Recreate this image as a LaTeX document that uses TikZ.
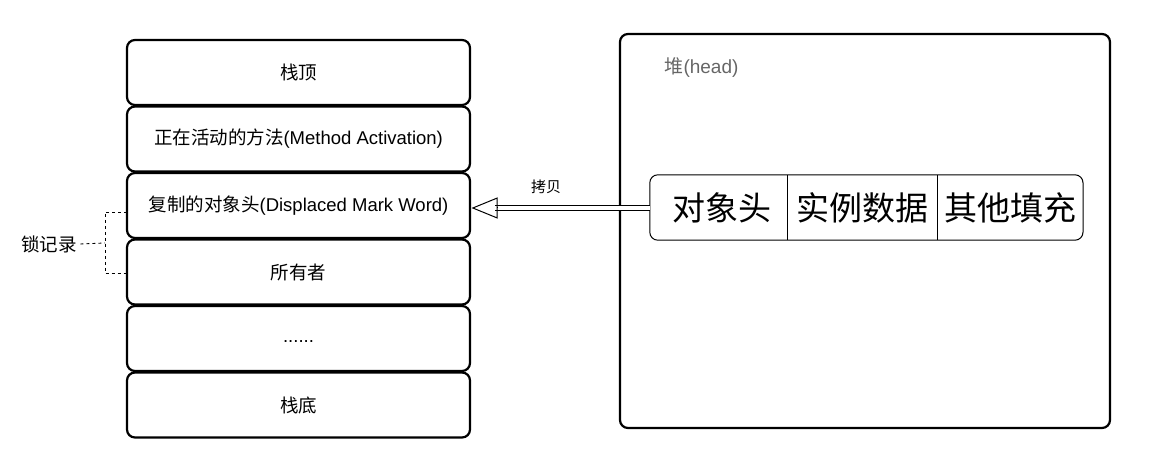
\documentclass[tikz,border=0pt]{standalone}
\usepackage{fontspec}
\setmainfont{Liberation Sans}
\newfontfamily\cjk{Noto Sans CJK SC}
\usetikzlibrary{positioning,arrows.meta}
\definecolor{headgray}{HTML}{666666}
\tikzset{
    frame/.style={draw, line width=2.2pt, rounded corners=8pt, outer sep=0pt, minimum width=343pt, minimum height=65pt, font=\fontsize{18.5}{22}\selectfont},
    cell/.style={minimum height=65pt, inner sep=0pt, font=\cjk\fontsize{33}{38}\selectfont},
}
\begin{document}
\begin{tikzpicture}[x=1pt,y=-1pt]
    \useasboundingbox (0,0) rectangle (1157,473);
    % stack
    \node[frame] (top) at (298.5,72.5) {\cjk 栈顶};
    \node[frame, below=1.5pt of top] (act) {{\cjk 正在活动的方法}(Method Activation)};
    \node[frame, below=1.5pt of act] (dw) {{\cjk 复制的对象头}(Displaced Mark Word)};
    \node[frame, below=1.5pt of dw] (own) {\cjk 所有者};
    \node[frame, below=1.5pt of own] (dots) {\raisebox{-4pt}[0pt][0pt]{......}};
    \node[frame, below=1.5pt of dots] (bot) {\cjk 栈底};
    % lock record
    \node[font=\cjk\fontsize{18.5}{22}\selectfont] (lock) at (49,244) {锁记录};
    \coordinate (brk) at (105,243);
    \draw[dashed, line width=0.9pt] ([yshift=-6.5pt]dw.west) -| (brk) |- ([yshift=-1.5pt]own.west);
    \draw[dashed, line width=0.9pt] (lock.east) -- (brk);
    % heap
    \draw[line width=2.2pt, rounded corners=8pt] (620,34) rectangle (1110,428);
    \node[anchor=west, text=headgray, font=\fontsize{19}{22}\selectfont] (heap) at (661,68) {{\cjk 堆}(head)};
    \node[cell, minimum width=137pt] (hdr) at (718.5,207.5) {\hspace{6pt}对象头};
    \node[cell, minimum width=150pt, right=0pt of hdr] (data) {实例数据};
    \node[cell, minimum width=145pt, right=0pt of data] (fill) {其他填充};
    \draw[line width=1pt, rounded corners=8pt] (hdr.north west) rectangle (fill.south east);
    \draw[line width=1pt] (data.north west) -- (data.south west);
    \draw[line width=1pt] (fill.north west) -- (fill.south west);
    % copy arrow
    \draw[double, double distance=3.5pt, line width=1.2pt, shorten >=25pt] ([yshift=-0.5pt]hdr.west) -- ([yshift=-2.5pt]dw.east);
    \draw[line width=1pt, -{Triangle[open, length=26pt, width=21pt]}] ([xshift=27pt,yshift=-2.5pt]dw.east) -- ([xshift=1.5pt,yshift=-2.5pt]dw.east);
    \node[font=\cjk\fontsize{15}{18}\selectfont] (cp) at (546,187) {拷贝};
\end{tikzpicture}
\end{document}
